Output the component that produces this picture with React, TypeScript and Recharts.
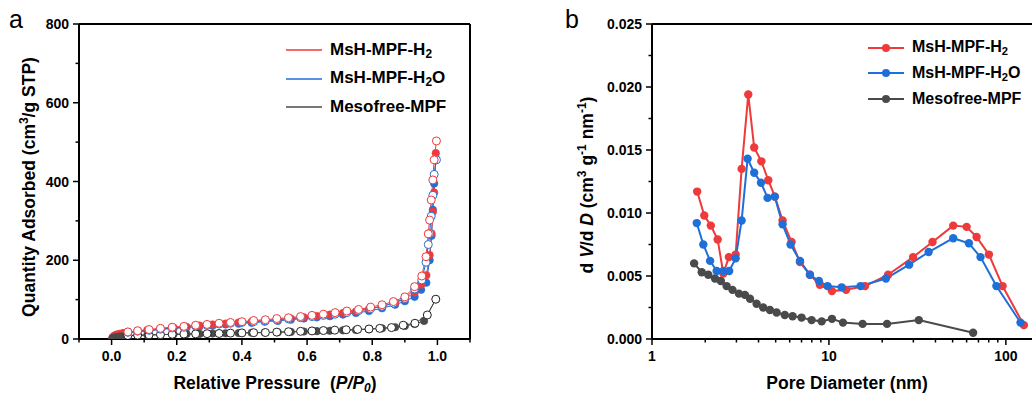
import React from 'react';
import { LineChart, Line, XAxis, YAxis, Legend } from 'recharts';

const RED = '#ee3a3a';
const BLUE = '#1f6fd8';
const GRAY = '#4a4a4a';
const FONT = '"Liberation Sans", Arial, Helvetica, sans-serif';

// ---- panel a: N2 isotherms (P/P0 vs quantity adsorbed) ----
const adsP = [0.003, 0.008, 0.015, 0.025, 0.035, 0.05, 0.08, 0.11, 0.15, 0.19, 0.23, 0.27, 0.31, 0.35, 0.39, 0.43, 0.47, 0.51, 0.55, 0.59, 0.63, 0.67, 0.71, 0.75, 0.79, 0.83, 0.87, 0.9, 0.93, 0.95, 0.966, 0.976, 0.982, 0.986, 0.99, 0.995];
const h2AdsQ = [4, 8, 11, 13, 15, 17, 20, 23, 26, 29, 31, 34, 37, 39, 42, 44, 47, 49, 52, 55, 58, 62, 66, 70, 76, 83, 92, 102, 118, 138, 162, 213, 268, 323, 372, 472];
const h2oAdsQ = [3, 7, 10, 12, 14, 15, 18, 21, 24, 27, 29, 32, 34, 37, 39, 41, 44, 46, 49, 52, 55, 58, 62, 66, 71, 78, 87, 96, 107, 125, 143, 200, 262, 328, 395, 455];

const desP = [0.997, 0.99, 0.986, 0.981, 0.976, 0.972, 0.965, 0.952, 0.93, 0.9, 0.865, 0.83, 0.795, 0.758, 0.722, 0.686, 0.65, 0.615, 0.58, 0.543, 0.507, 0.472, 0.436, 0.4, 0.365, 0.33, 0.293, 0.258, 0.222, 0.186, 0.15, 0.115, 0.08, 0.05];
const h2DesQ = [503, 455, 404, 353, 302, 267, 209, 160, 133, 107, 95, 87, 81, 75, 71, 67, 63, 60, 57, 54, 52, 49, 47, 44, 42, 40, 37, 35, 32, 30, 27, 24, 21, 18];
const h2oDesQ = [455, 418, 365, 312, 268, 240, 195, 150, 127, 103, 91, 83, 77, 72, 67, 63, 60, 57, 54, 51, 49, 46, 44, 42, 40, 38, 35, 33, 30, 28, 25, 22, 20, 17];

const mfAdsP = [0.003, 0.008, 0.015, 0.025, 0.035, 0.05, 0.08, 0.11, 0.15, 0.19, 0.23, 0.27, 0.31, 0.35, 0.39, 0.43, 0.47, 0.51, 0.55, 0.59, 0.63, 0.67, 0.71, 0.75, 0.79, 0.83, 0.87, 0.9, 0.93, 0.959, 0.995];
const mfAdsQ = [2, 4, 5, 6, 7, 8, 9, 10, 11, 12, 12.5, 13, 14, 14.5, 15, 16, 16.5, 17, 18, 19, 20, 21, 22, 23, 25, 27, 30, 33, 38, 46, 101];
const mfDesP = [0.995, 0.969, 0.931, 0.895, 0.859, 0.823, 0.79, 0.755, 0.72, 0.685, 0.65, 0.615, 0.58, 0.543, 0.507, 0.472, 0.436, 0.4, 0.365, 0.33, 0.293, 0.258, 0.222, 0.186, 0.15, 0.115, 0.08, 0.05];
const mfDesQ = [101, 61, 40, 35, 29, 27, 25.5, 24.5, 23.5, 22.5, 21.5, 20.5, 19.5, 18.5, 17.5, 16.5, 16, 15.5, 15, 14, 13.5, 13, 12.5, 12, 11, 10.5, 10, 9];

const aXTicks = [-0.1, 0, 0.1, 0.2, 0.3, 0.4, 0.5, 0.6, 0.7, 0.8, 0.9, 1.0, 1.1];
const aYTicks = [0, 100, 200, 300, 400, 500, 600, 700, 800];

// ---- panel b: pore size distribution ----
const h2D = [1.8, 1.975, 2.15, 2.35, 2.53, 2.72, 2.97, 3.21, 3.5, 3.78, 4.15, 4.54, 4.95, 5.47, 6.15, 6.86, 7.81, 8.89, 10.4, 12.5, 16.0, 21.6, 29.9, 38.5, 50.4, 60.0, 68.3, 80.2, 95.8, 126.4];
const h2V = [0.0117, 0.0098, 0.009, 0.0079, 0.0052, 0.0065, 0.0067, 0.0135, 0.0194, 0.0152, 0.0141, 0.0126, 0.0113, 0.0094, 0.0077, 0.0061, 0.0051, 0.0043, 0.0038, 0.0039, 0.0042, 0.0051, 0.0065, 0.0077, 0.009, 0.0089, 0.0081, 0.0067, 0.0042, 0.0011];
const h2oD = [1.79, 1.95, 2.13, 2.32, 2.53, 2.73, 2.97, 3.21, 3.47, 3.78, 4.13, 4.5, 4.94, 5.47, 6.07, 6.86, 7.81, 8.78, 9.82, 11.8, 15.1, 21.0, 28.4, 36.6, 50.4, 61.8, 71.9, 88.4, 121];
const h2oV = [0.0092, 0.0075, 0.0062, 0.0054, 0.0054, 0.0054, 0.0064, 0.0094, 0.0143, 0.0132, 0.0124, 0.0112, 0.0113, 0.0091, 0.0075, 0.0062, 0.0051, 0.0046, 0.0042, 0.0041, 0.0042, 0.0048, 0.0059, 0.0069, 0.008, 0.0076, 0.0065, 0.0042, 0.0013];
const mfD = [1.73, 1.91, 2.08, 2.27, 2.45, 2.64, 2.85, 3.1, 3.35, 3.58, 3.9, 4.25, 4.64, 5.06, 5.63, 6.23, 7.0, 7.98, 9.1, 10.4, 12.0, 15.5, 21.3, 32.2, 65.3];
const mfV = [0.006, 0.0053, 0.0051, 0.0048, 0.0046, 0.0042, 0.0039, 0.0036, 0.0035, 0.0032, 0.0028, 0.0025, 0.0023, 0.0021, 0.0019, 0.0018, 0.0017, 0.0015, 0.0014, 0.0016, 0.0013, 0.0012, 0.0012, 0.0015, 0.0005];

const bXTicks = [1, 2, 3, 4, 5, 6, 7, 8, 9, 10, 20, 30, 40, 50, 60, 70, 80, 90, 100];
const bYTicks = [0, 0.0025, 0.005, 0.0075, 0.01, 0.0125, 0.015, 0.0175, 0.02, 0.0225, 0.025];

const series = [
  { name: 'MsH-MPF-H', sub: '2', tail: '', color: RED },
  { name: 'MsH-MPF-H', sub: '2', tail: 'O', color: BLUE },
  { name: 'Mesofree-MPF', sub: '', tail: '', color: GRAY },
];

const pts = (xs: number[], ys: number[]) => xs.map((x, i) => ({ x, y: ys[i] }));

const BottomTick = (props: any) => {
  const { x, y, payload, isMajor, format } = props;
  const major = isMajor(payload.value);
  return (
    <g>
      <line x1={x} x2={x} y1={y} y2={y + (major ? 6 : 3.5)} stroke="#000" strokeWidth={1.5} />
      {major && (
        <text x={x} y={y + 22} textAnchor="middle" fontSize={14} fontWeight="bold" fontFamily={FONT} fill="#000">
          {format(payload.value)}
        </text>
      )}
    </g>
  );
};

const LeftTick = (props: any) => {
  const { x, y, payload, isMajor, format } = props;
  const major = isMajor(payload.value);
  return (
    <g>
      <line x1={x} x2={x - (major ? 6 : 3.5)} y1={y} y2={y} stroke="#000" strokeWidth={1.5} />
      {major && (
        <text x={x - 10} y={y + 5} textAnchor="end" fontSize={14} fontWeight="bold" fontFamily={FONT} fill="#000">
          {format(payload.value)}
        </text>
      )}
    </g>
  );
};

const Title = (props: any) => {
  const { px, py, rotate, children } = props;
  return (
    <text
      x={px}
      y={py}
      textAnchor="middle"
      fontSize={17.5}
      fontWeight="bold"
      fontFamily={FONT}
      fill="#000"
      transform={rotate ? `rotate(-90 ${px} ${py})` : undefined}
    >
      {children}
    </text>
  );
};

const LegendBox = ({ withDot, rowH, fontSize, lineW }: { withDot: boolean; rowH: number; fontSize: number; lineW: number }) => (
  <div style={{ fontFamily: FONT }}>
    {series.map((s) => (
      <div key={s.name + s.tail} style={{ display: 'flex', alignItems: 'center', height: rowH }}>
        <svg width={36} height={10} style={{ display: 'block' }}>
          <line x1={0} x2={36} y1={5} y2={5} stroke={s.color} strokeWidth={lineW} />
          {withDot && <circle cx={18} cy={5} r={4} fill={s.color} />}
        </svg>
        <span style={{ marginLeft: 8, fontSize, fontWeight: 'bold', color: '#000', whiteSpace: 'nowrap' }}>
          {s.name}
          {s.sub && <sub style={{ fontSize: fontSize * 0.7, verticalAlign: -3 }}>{s.sub}</sub>}
          {s.tail}
        </span>
      </div>
    ))}
  </div>
);

const openDot = (c: string) => ({ r: 4, fill: '#fff', stroke: c, strokeWidth: 1 });
const fillDot = (c: string) => ({ r: 3.8, fill: c, stroke: c, strokeWidth: 0.5 });
const frame = { stroke: '#000', strokeWidth: 2 };

const PanelA = () => (
  <LineChart width={490} height={396} margin={{ top: 23, right: 19, bottom: 56, left: 78 }}>
    <XAxis
      dataKey="x"
      type="number"
      domain={[-0.1, 1.1]}
      allowDataOverflow
      ticks={aXTicks}
      interval={0}
      height={1}
      tickSize={0}
      tickMargin={0}
      axisLine={frame}
      tickLine={false}
      tick={<BottomTick isMajor={(v: number) => Math.round(v * 10) % 2 === 0} format={(v: number) => v.toFixed(1)} />}
      label={
        <Title px={275} py={389}>
          Relative Pressure{'\u00a0\u00a0'}(<tspan fontStyle="italic">P/P</tspan>
          <tspan fontStyle="italic" fontSize={12} dy={3}>0</tspan>
          <tspan dy={-3}>)</tspan>
        </Title>
      }
    />
    <XAxis xAxisId="top" orientation="top" type="number" domain={[-0.1, 1.1]} height={1} tick={false} tickLine={false} axisLine={frame} />
    <YAxis
      type="number"
      domain={[0, 800]}
      allowDataOverflow
      ticks={aYTicks}
      interval={0}
      width={1}
      tickSize={0}
      tickMargin={0}
      axisLine={frame}
      tickLine={false}
      tick={<LeftTick isMajor={(v: number) => v % 200 === 0} format={(v: number) => String(v)} />}
      label={
        <Title px={35} py={187} rotate>
          Quantity Adsorbed (cm<tspan fontSize={12} dy={-7}>3</tspan>
          <tspan dy={7}>/g STP)</tspan>
        </Title>
      }
    />
    <YAxis yAxisId="right" orientation="right" type="number" domain={[0, 800]} width={1} tick={false} tickLine={false} axisLine={frame} />
    <Legend
      layout="vertical"
      align="center"
      verticalAlign="middle"
      wrapperStyle={{ left: 286, top: 36, width: 200 }}
      content={() => <LegendBox withDot={false} rowH={28.5} fontSize={17} lineW={1.3} />}
    />
    <Line data={pts(adsP, h2oAdsQ)} dataKey="y" stroke={BLUE} strokeWidth={1} dot={fillDot(BLUE)} activeDot={false} isAnimationActive={false} legendType="none" />
    <Line data={pts(adsP, h2AdsQ)} dataKey="y" stroke={RED} strokeWidth={1} dot={fillDot(RED)} activeDot={false} isAnimationActive={false} legendType="none" />
    <Line data={pts(mfAdsP, mfAdsQ)} dataKey="y" stroke={GRAY} strokeWidth={1} dot={fillDot(GRAY)} activeDot={false} isAnimationActive={false} legendType="none" />
    <Line data={pts(mfDesP, mfDesQ)} dataKey="y" stroke={GRAY} strokeWidth={1} dot={openDot('#222')} activeDot={false} isAnimationActive={false} legendType="none" />
    <Line data={pts(desP, h2oDesQ)} dataKey="y" stroke={BLUE} strokeWidth={1} dot={openDot(BLUE)} activeDot={false} isAnimationActive={false} legendType="none" />
    <Line data={pts(desP, h2DesQ)} dataKey="y" stroke={RED} strokeWidth={1} dot={openDot(RED)} activeDot={false} isAnimationActive={false} legendType="none" />
  </LineChart>
);

const PanelB = () => (
  <LineChart width={500} height={396} margin={{ top: 23, right: 3, bottom: 56, left: 111 }}>
    <XAxis
      dataKey="x"
      type="number"
      scale="log"
      domain={[1, 148]}
      allowDataOverflow
      ticks={bXTicks}
      interval={0}
      height={1}
      tickSize={0}
      tickMargin={0}
      axisLine={frame}
      tickLine={false}
      tick={<BottomTick isMajor={(v: number) => v === 1 || v === 10 || v === 100} format={(v: number) => String(v)} />}
      label={<Title px={307} py={389}>Pore Diameter (nm)</Title>}
    />
    <XAxis xAxisId="top" orientation="top" type="number" scale="log" domain={[1, 148]} height={1} tick={false} tickLine={false} axisLine={frame} />
    <YAxis
      type="number"
      domain={[0, 0.025]}
      allowDataOverflow
      ticks={bYTicks}
      interval={0}
      width={1}
      tickSize={0}
      tickMargin={0}
      axisLine={frame}
      tickLine={false}
      tick={<LeftTick isMajor={(v: number) => Math.round(v * 10000) % 50 === 0} format={(v: number) => v.toFixed(3)} />}
      label={
        <Title px={53} py={185} rotate>
          d <tspan fontStyle="italic">V</tspan>/d <tspan fontStyle="italic">D</tspan> (cm
          <tspan fontSize={12} dy={-7}>3</tspan>
          <tspan dy={7}> g</tspan>
          <tspan fontSize={12} dy={-7}>-1</tspan>
          <tspan dy={7}> nm</tspan>
          <tspan fontSize={12} dy={-7}>-1</tspan>
          <tspan dy={7}>)</tspan>
        </Title>
      }
    />
    <YAxis yAxisId="right" orientation="right" type="number" domain={[0, 0.025]} width={1} tick={false} tickLine={false} axisLine={frame} />
    <Legend
      layout="vertical"
      align="center"
      verticalAlign="middle"
      wrapperStyle={{ left: 328, top: 35, width: 170 }}
      content={() => <LegendBox withDot rowH={25.5} fontSize={16} lineW={2} />}
    />
    <Line data={pts(mfD, mfV)} dataKey="y" stroke={GRAY} strokeWidth={2} dot={{ r: 4.2, fill: GRAY, stroke: GRAY, strokeWidth: 0 }} activeDot={false} isAnimationActive={false} />
    <Line data={pts(h2D, h2V)} dataKey="y" stroke={RED} strokeWidth={2} dot={{ r: 4.2, fill: RED, stroke: RED, strokeWidth: 0 }} activeDot={false} isAnimationActive={false} />
    <Line data={pts(h2oD, h2oV)} dataKey="y" stroke={BLUE} strokeWidth={2} dot={{ r: 4.2, fill: BLUE, stroke: BLUE, strokeWidth: 0 }} activeDot={false} isAnimationActive={false} />
  </LineChart>
);

export default function App() {
  return (
    <div style={{ position: 'absolute', left: 0, top: 0, width: 1032, height: 396, overflow: 'hidden', background: '#fff', fontFamily: FONT }}>
      <div style={{ position: 'absolute', left: 0, top: 0 }}>
        <PanelA />
      </div>
      <div style={{ position: 'absolute', left: 540, top: 0 }}>
        <PanelB />
      </div>
      <svg width={1032} height={396} style={{ position: 'absolute', left: 0, top: 0, pointerEvents: 'none' }}>
        <text x={9} y={28} fontSize={25} fontFamily={FONT} fill="#000">a</text>
        <text x={565} y={28} fontSize={25} fontFamily={FONT} fill="#000">b</text>
      </svg>
    </div>
  );
}
